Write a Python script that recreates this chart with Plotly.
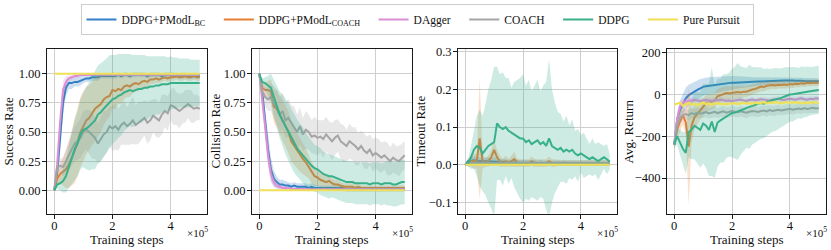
import plotly.graph_objects as go

# training steps in units of 1e5
steps = [0.0, 0.1, 0.2, 0.3, 0.4, 0.5, 0.6, 0.7, 0.8, 0.9,
         1.0, 1.1, 1.2, 1.3, 1.4, 1.5, 1.6, 1.7, 1.8, 1.9,
         2.0, 2.1, 2.2, 2.3, 2.4, 2.5, 2.6, 2.7, 2.8, 2.9,
         3.0, 3.1, 3.2, 3.3, 3.4, 3.5, 3.6, 3.7, 3.8, 3.9,
         4.0, 4.1, 4.2, 4.3, 4.4, 4.5, 4.6, 4.7, 4.8, 4.9, 5.0]

methods = ["DDPG+PModL<sub>BC</sub>", "DDPG+PModL<sub>COACH</sub>", "DAgger", "COACH", "DDPG", "Pure Pursuit"]
colors = ["#3380c4", "#e67e33", "#dc8fd5", "#a5a5a5", "#38b08a", "#efe055"]

# ---------------- Success Rate ----------------
sr_bc = [0.00, 0.15, 0.45, 0.75, 0.88, 0.92, 0.92, 0.93, 0.93, 0.94,
         0.95, 0.96, 0.96, 0.97, 0.97, 0.97, 0.98, 0.98, 0.98, 0.98,
         0.98, 0.98, 0.99, 0.98, 0.99, 0.99, 0.98, 0.99, 0.99, 0.99,
         0.99, 0.99, 0.98, 0.99, 0.99, 0.99, 0.99, 0.98, 0.99, 0.99,
         0.99, 0.99, 0.98, 0.98, 0.99, 0.98, 0.98, 0.98, 0.98, 0.98, 0.98]
sr_bc_sd = [0.00, 0.08, 0.12, 0.10, 0.07, 0.05, 0.05, 0.04, 0.04, 0.04,
            0.03, 0.03, 0.03, 0.03, 0.03, 0.03, 0.02, 0.02, 0.02, 0.02,
            0.02, 0.02, 0.02, 0.02, 0.02, 0.02, 0.02, 0.02, 0.02, 0.02,
            0.02, 0.02, 0.02, 0.02, 0.02, 0.02, 0.02, 0.02, 0.02, 0.02,
            0.02, 0.02, 0.02, 0.02, 0.02, 0.02, 0.02, 0.02, 0.02, 0.02, 0.02]
sr_co = [0.00, 0.10, 0.14, 0.16, 0.18, 0.22, 0.28, 0.34, 0.42, 0.50,
         0.55, 0.60, 0.62, 0.66, 0.70, 0.72, 0.74, 0.78, 0.80, 0.81,
         0.86, 0.85, 0.87, 0.86, 0.89, 0.90, 0.89, 0.91, 0.92, 0.91,
         0.93, 0.94, 0.93, 0.95, 0.95, 0.96, 0.95, 0.96, 0.97, 0.96,
         0.97, 0.97, 0.98, 0.97, 0.97, 0.98, 0.97, 0.97, 0.98, 0.97, 0.97]
sr_co_sd = [0.00, 0.05, 0.08, 0.12, 0.16, 0.20, 0.24, 0.28, 0.30, 0.30,
            0.30, 0.29, 0.28, 0.28, 0.27, 0.26, 0.24, 0.22, 0.20, 0.18,
            0.16, 0.15, 0.13, 0.12, 0.11, 0.10, 0.09, 0.08, 0.07, 0.06,
            0.06, 0.05, 0.05, 0.04, 0.04, 0.04, 0.03, 0.03, 0.03, 0.03,
            0.03, 0.03, 0.03, 0.03, 0.03, 0.03, 0.03, 0.03, 0.03, 0.03, 0.03]
sr_da = [0.00, 0.22, 0.58, 0.86, 0.93, 0.96, 0.97, 0.98, 0.98, 0.99,
         0.99, 0.99, 0.99, 0.99, 0.99, 0.99, 0.99, 0.99, 0.99, 0.99,
         0.99, 0.99, 0.99, 0.99, 0.99, 0.99, 0.99, 0.99, 0.99, 0.99,
         0.99, 0.99, 0.99, 0.99, 0.99, 0.99, 0.99, 0.99, 0.99, 0.99,
         0.99, 0.99, 0.99, 0.99, 0.99, 0.99, 0.99, 0.99, 0.99, 0.99, 0.99]
sr_da_sd = [0.00, 0.10, 0.12, 0.08, 0.05, 0.03, 0.02, 0.02, 0.02, 0.01,
            0.01, 0.01, 0.01, 0.01, 0.01, 0.01, 0.01, 0.01, 0.01, 0.01,
            0.01, 0.01, 0.01, 0.01, 0.01, 0.01, 0.01, 0.01, 0.01, 0.01,
            0.01, 0.01, 0.01, 0.01, 0.01, 0.01, 0.01, 0.01, 0.01, 0.01,
            0.01, 0.01, 0.01, 0.01, 0.01, 0.01, 0.01, 0.01, 0.01, 0.01, 0.01]
sr_ca = [0.00, 0.20, 0.21, 0.20, 0.25, 0.30, 0.35, 0.40, 0.42, 0.45,
         0.50, 0.52, 0.50, 0.47, 0.45, 0.40, 0.44, 0.48, 0.50, 0.55,
         0.53, 0.55, 0.52, 0.56, 0.58, 0.55, 0.57, 0.60, 0.56, 0.58,
         0.60, 0.62, 0.58, 0.60, 0.64, 0.62, 0.60, 0.65, 0.68, 0.66,
         0.73, 0.72, 0.70, 0.68, 0.70, 0.72, 0.74, 0.72, 0.70, 0.71, 0.70]
sr_ca_sd = [0.00, 0.04, 0.06, 0.08, 0.10, 0.12, 0.14, 0.15, 0.16, 0.17,
            0.18, 0.17, 0.19, 0.20, 0.18, 0.17, 0.19, 0.20, 0.18, 0.17,
            0.19, 0.20, 0.18, 0.17, 0.19, 0.16, 0.18, 0.20, 0.17, 0.18,
            0.16, 0.15, 0.18, 0.17, 0.14, 0.16, 0.15, 0.17, 0.14, 0.15,
            0.13, 0.16, 0.14, 0.15, 0.13, 0.14, 0.12, 0.14, 0.12, 0.11, 0.10]
sr_dd = [0.00, 0.05, 0.06, 0.08, 0.12, 0.20, 0.28, 0.35, 0.40, 0.48,
         0.52, 0.53, 0.55, 0.58, 0.60, 0.65, 0.67, 0.70, 0.73, 0.76,
         0.78, 0.79, 0.81, 0.82, 0.84, 0.85, 0.86, 0.85, 0.86, 0.87,
         0.87, 0.88, 0.88, 0.89, 0.89, 0.90, 0.90, 0.91, 0.91, 0.91,
         0.92, 0.92, 0.92, 0.92, 0.92, 0.92, 0.92, 0.92, 0.92, 0.92, 0.92]
sr_dd_sd = [0.00, 0.04, 0.06, 0.10, 0.14, 0.18, 0.22, 0.26, 0.28, 0.30,
            0.32, 0.35, 0.38, 0.40, 0.42, 0.42, 0.42, 0.41, 0.40, 0.40,
            0.38, 0.37, 0.36, 0.35, 0.33, 0.32, 0.31, 0.31, 0.30, 0.29,
            0.29, 0.28, 0.27, 0.26, 0.26, 0.25, 0.25, 0.24, 0.24, 0.23,
            0.23, 0.22, 0.22, 0.21, 0.21, 0.21, 0.21, 0.20, 0.20, 0.20, 0.20]
sr_pp = [1.00, 1.00, 1.00, 1.00, 1.00, 1.00, 1.00, 1.00, 1.00, 1.00,
         1.00, 1.00, 1.00, 1.00, 1.00, 1.00, 1.00, 1.00, 1.00, 1.00,
         1.00, 1.00, 1.00, 1.00, 1.00, 1.00, 1.00, 1.00, 1.00, 1.00,
         1.00, 1.00, 1.00, 1.00, 1.00, 1.00, 1.00, 1.00, 1.00, 1.00,
         1.00, 1.00, 1.00, 1.00, 1.00, 1.00, 1.00, 1.00, 1.00, 1.00, 1.00]
sr_pp_sd = [0.0, 0.0, 0.0, 0.0, 0.0, 0.0, 0.0, 0.0, 0.0, 0.0,
            0.0, 0.0, 0.0, 0.0, 0.0, 0.0, 0.0, 0.0, 0.0, 0.0,
            0.0, 0.0, 0.0, 0.0, 0.0, 0.0, 0.0, 0.0, 0.0, 0.0,
            0.0, 0.0, 0.0, 0.0, 0.0, 0.0, 0.0, 0.0, 0.0, 0.0,
            0.0, 0.0, 0.0, 0.0, 0.0, 0.0, 0.0, 0.0, 0.0, 0.0, 0.0]

# ---------------- Collision Rate ----------------
cr_bc = [1.00, 0.85, 0.60, 0.35, 0.18, 0.10, 0.07, 0.05, 0.05, 0.04,
         0.04, 0.03, 0.04, 0.03, 0.03, 0.03, 0.03, 0.02, 0.03, 0.02,
         0.02, 0.02, 0.02, 0.02, 0.02, 0.02, 0.02, 0.02, 0.02, 0.02,
         0.01, 0.01, 0.01, 0.01, 0.01, 0.01, 0.01, 0.01, 0.01, 0.01,
         0.01, 0.01, 0.01, 0.01, 0.01, 0.01, 0.01, 0.01, 0.01, 0.01, 0.01]
cr_bc_sd = [0.00, 0.05, 0.10, 0.12, 0.10, 0.07, 0.05, 0.04, 0.04, 0.04,
            0.03, 0.03, 0.03, 0.03, 0.03, 0.03, 0.03, 0.03, 0.03, 0.03,
            0.02, 0.02, 0.02, 0.02, 0.02, 0.02, 0.02, 0.02, 0.02, 0.02,
            0.02, 0.02, 0.02, 0.02, 0.02, 0.02, 0.02, 0.02, 0.02, 0.02,
            0.02, 0.02, 0.02, 0.02, 0.02, 0.02, 0.02, 0.02, 0.02, 0.02, 0.02]
cr_co = [1.00, 0.88, 0.86, 0.86, 0.85, 0.72, 0.70, 0.65, 0.60, 0.55,
         0.50, 0.42, 0.38, 0.34, 0.30, 0.27, 0.24, 0.20, 0.15, 0.12,
         0.11, 0.09, 0.08, 0.07, 0.08, 0.06, 0.05, 0.05, 0.04, 0.03,
         0.03, 0.03, 0.03, 0.02, 0.03, 0.02, 0.02, 0.02, 0.02, 0.02,
         0.02, 0.02, 0.02, 0.02, 0.02, 0.02, 0.02, 0.02, 0.02, 0.02, 0.02]
cr_co_sd = [0.00, 0.04, 0.06, 0.08, 0.10, 0.14, 0.16, 0.17, 0.18, 0.18,
            0.18, 0.17, 0.16, 0.15, 0.14, 0.13, 0.12, 0.10, 0.09, 0.08,
            0.07, 0.06, 0.06, 0.05, 0.05, 0.04, 0.04, 0.04, 0.03, 0.03,
            0.03, 0.03, 0.03, 0.03, 0.03, 0.02, 0.02, 0.02, 0.02, 0.02,
            0.02, 0.02, 0.02, 0.02, 0.02, 0.02, 0.02, 0.02, 0.02, 0.02, 0.02]
cr_da = [1.00, 0.80, 0.55, 0.30, 0.14, 0.07, 0.04, 0.03, 0.02, 0.02,
         0.02, 0.01, 0.01, 0.01, 0.01, 0.01, 0.01, 0.01, 0.01, 0.01,
         0.01, 0.01, 0.01, 0.01, 0.01, 0.01, 0.01, 0.01, 0.01, 0.01,
         0.01, 0.01, 0.01, 0.01, 0.01, 0.01, 0.01, 0.01, 0.01, 0.01,
         0.01, 0.01, 0.01, 0.01, 0.01, 0.01, 0.01, 0.01, 0.01, 0.01, 0.01]
cr_da_sd = [0.00, 0.06, 0.10, 0.10, 0.07, 0.04, 0.03, 0.02, 0.02, 0.02,
            0.01, 0.01, 0.01, 0.01, 0.01, 0.01, 0.01, 0.01, 0.01, 0.01,
            0.01, 0.01, 0.01, 0.01, 0.01, 0.01, 0.01, 0.01, 0.01, 0.01,
            0.01, 0.01, 0.01, 0.01, 0.01, 0.01, 0.01, 0.01, 0.01, 0.01,
            0.01, 0.01, 0.01, 0.01, 0.01, 0.01, 0.01, 0.01, 0.01, 0.01, 0.01]
cr_ca = [1.00, 0.85, 0.80, 0.78, 0.80, 0.75, 0.72, 0.65, 0.68, 0.60,
         0.62, 0.58, 0.55, 0.50, 0.55, 0.48, 0.52, 0.50, 0.46, 0.47,
         0.45, 0.46, 0.44, 0.48, 0.45, 0.42, 0.45, 0.47, 0.42, 0.40,
         0.38, 0.42, 0.40, 0.38, 0.35, 0.38, 0.34, 0.32, 0.35, 0.30,
         0.32, 0.30, 0.28, 0.30, 0.27, 0.25, 0.28, 0.26, 0.25, 0.28, 0.30]
cr_ca_sd = [0.00, 0.06, 0.08, 0.10, 0.12, 0.14, 0.15, 0.15, 0.16, 0.15,
            0.16, 0.15, 0.17, 0.15, 0.16, 0.14, 0.16, 0.15, 0.14, 0.16,
            0.15, 0.14, 0.16, 0.15, 0.14, 0.16, 0.15, 0.14, 0.15, 0.16,
            0.14, 0.15, 0.14, 0.16, 0.14, 0.13, 0.15, 0.14, 0.13, 0.14,
            0.13, 0.14, 0.13, 0.12, 0.14, 0.12, 0.13, 0.12, 0.13, 0.12, 0.12]
cr_dd = [1.00, 0.93, 0.92, 0.90, 0.88, 0.80, 0.72, 0.65, 0.60, 0.55,
         0.50, 0.45, 0.40, 0.36, 0.33, 0.30, 0.26, 0.24, 0.21, 0.19,
         0.18, 0.16, 0.14, 0.13, 0.12, 0.12, 0.11, 0.10, 0.09, 0.08,
         0.07, 0.07, 0.07, 0.06, 0.06, 0.06, 0.06, 0.06, 0.05, 0.06,
         0.06, 0.06, 0.05, 0.06, 0.06, 0.06, 0.05, 0.05, 0.06, 0.07, 0.07]
cr_dd_sd = [0.00, 0.03, 0.05, 0.08, 0.12, 0.15, 0.18, 0.20, 0.22, 0.24,
            0.25, 0.25, 0.25, 0.25, 0.24, 0.24, 0.23, 0.22, 0.21, 0.20,
            0.20, 0.20, 0.19, 0.19, 0.19, 0.18, 0.18, 0.18, 0.18, 0.18,
            0.18, 0.18, 0.18, 0.18, 0.18, 0.18, 0.18, 0.18, 0.18, 0.18,
            0.18, 0.18, 0.18, 0.18, 0.19, 0.19, 0.19, 0.19, 0.19, 0.19, 0.19]
cr_pp = [0.0, 0.0, 0.0, 0.0, 0.0, 0.0, 0.0, 0.0, 0.0, 0.0,
         0.0, 0.0, 0.0, 0.0, 0.0, 0.0, 0.0, 0.0, 0.0, 0.0,
         0.0, 0.0, 0.0, 0.0, 0.0, 0.0, 0.0, 0.0, 0.0, 0.0,
         0.0, 0.0, 0.0, 0.0, 0.0, 0.0, 0.0, 0.0, 0.0, 0.0,
         0.0, 0.0, 0.0, 0.0, 0.0, 0.0, 0.0, 0.0, 0.0, 0.0, 0.0]
cr_pp_sd = sr_pp_sd

# ---------------- Timeout Rate ----------------
to_bc = [0.000, 0.010, 0.010, 0.012, 0.010, 0.010, 0.008, 0.010, 0.010, 0.008,
         0.010, 0.008, 0.006, 0.008, 0.006, 0.006, 0.005, 0.006, 0.005, 0.005,
         0.005, 0.005, 0.005, 0.004, 0.005, 0.004, 0.005, 0.004, 0.004, 0.004,
         0.004, 0.004, 0.003, 0.004, 0.003, 0.003, 0.004, 0.003, 0.003, 0.003,
         0.003, 0.003, 0.003, 0.003, 0.003, 0.003, 0.003, 0.003, 0.003, 0.003, 0.003]
to_bc_sd = [0.000, 0.008, 0.010, 0.010, 0.010, 0.010, 0.009, 0.010, 0.010, 0.009,
            0.010, 0.009, 0.008, 0.009, 0.008, 0.008, 0.007, 0.008, 0.007, 0.007,
            0.007, 0.007, 0.007, 0.006, 0.007, 0.006, 0.007, 0.006, 0.006, 0.006,
            0.006, 0.006, 0.005, 0.006, 0.005, 0.005, 0.006, 0.005, 0.005, 0.005,
            0.005, 0.005, 0.005, 0.005, 0.005, 0.005, 0.005, 0.005, 0.005, 0.005, 0.005]
to_co = [0.000, 0.005, 0.010, 0.010, 0.010, 0.070, 0.010, 0.005, 0.010, 0.020,
         0.040, 0.020, 0.010, 0.005, 0.010, 0.005, 0.010, 0.015, 0.005, 0.005,
         0.005, 0.005, 0.005, 0.010, 0.005, 0.005, 0.005, 0.005, 0.005, 0.010,
         0.005, 0.005, 0.005, 0.005, 0.005, 0.005, 0.005, 0.005, 0.005, 0.005,
         0.005, 0.005, 0.005, 0.005, 0.005, 0.005, 0.005, 0.005, 0.005, 0.005, 0.005]
to_co_sd = [0.000, 0.010, 0.015, 0.020, 0.020, 0.160, 0.020, 0.010, 0.015, 0.020,
            0.025, 0.020, 0.015, 0.010, 0.015, 0.010, 0.015, 0.020, 0.010, 0.010,
            0.010, 0.010, 0.010, 0.012, 0.010, 0.010, 0.010, 0.010, 0.010, 0.012,
            0.010, 0.010, 0.008, 0.008, 0.008, 0.008, 0.008, 0.008, 0.008, 0.008,
            0.008, 0.008, 0.008, 0.008, 0.008, 0.008, 0.008, 0.008, 0.008, 0.008, 0.008]
to_da = [0.000, 0.003, 0.003, 0.003, 0.003, 0.003, 0.003, 0.003, 0.003, 0.003,
         0.003, 0.003, 0.003, 0.003, 0.003, 0.003, 0.003, 0.003, 0.003, 0.003,
         0.003, 0.003, 0.003, 0.003, 0.003, 0.003, 0.003, 0.003, 0.003, 0.003,
         0.003, 0.003, 0.003, 0.003, 0.003, 0.003, 0.003, 0.003, 0.003, 0.003,
         0.003, 0.003, 0.003, 0.003, 0.003, 0.003, 0.003, 0.003, 0.003, 0.003, 0.003]
to_da_sd = [0.000, 0.004, 0.004, 0.004, 0.004, 0.004, 0.004, 0.004, 0.004, 0.004,
            0.004, 0.004, 0.004, 0.004, 0.004, 0.004, 0.004, 0.004, 0.004, 0.004,
            0.004, 0.004, 0.004, 0.004, 0.004, 0.004, 0.004, 0.004, 0.004, 0.004,
            0.004, 0.004, 0.004, 0.004, 0.004, 0.004, 0.004, 0.004, 0.004, 0.004,
            0.004, 0.004, 0.004, 0.004, 0.004, 0.004, 0.004, 0.004, 0.004, 0.004, 0.004]
to_ca = [0.000, 0.004, 0.005, 0.004, 0.006, 0.004, 0.005, 0.004, 0.006, 0.004,
         0.005, 0.004, 0.006, 0.004, 0.005, 0.004, 0.005, 0.004, 0.006, 0.004,
         0.005, 0.004, 0.005, 0.004, 0.006, 0.004, 0.005, 0.004, 0.005, 0.004,
         0.005, 0.004, 0.005, 0.004, 0.006, 0.004, 0.005, 0.004, 0.005, 0.004,
         0.005, 0.004, 0.005, 0.004, 0.005, 0.004, 0.005, 0.004, 0.005, 0.004, 0.005]
to_ca_sd = [0.000, 0.006, 0.008, 0.007, 0.009, 0.007, 0.008, 0.007, 0.009, 0.007,
            0.008, 0.007, 0.009, 0.007, 0.008, 0.007, 0.008, 0.007, 0.009, 0.007,
            0.008, 0.007, 0.008, 0.007, 0.009, 0.007, 0.008, 0.007, 0.008, 0.007,
            0.008, 0.007, 0.008, 0.007, 0.009, 0.007, 0.008, 0.007, 0.008, 0.007,
            0.008, 0.007, 0.008, 0.007, 0.008, 0.007, 0.008, 0.007, 0.008, 0.007, 0.008]
to_dd = [0.000, 0.005, 0.020, 0.040, 0.050, 0.045, 0.030, 0.040, 0.050, 0.055,
         0.060, 0.110, 0.100, 0.095, 0.100, 0.090, 0.085, 0.080, 0.075, 0.070,
         0.070, 0.060, 0.065, 0.055, 0.060, 0.065, 0.055, 0.060, 0.050, 0.070,
         0.050, 0.045, 0.040, 0.045, 0.035, 0.040, 0.035, 0.040, 0.030, 0.025,
         0.030, 0.025, 0.020, 0.015, 0.020, 0.015, 0.010, 0.015, 0.020, 0.015, 0.008]
to_dd_sd = [0.000, 0.010, 0.030, 0.050, 0.080, 0.100, 0.100, 0.120, 0.150, 0.170,
            0.200, 0.150, 0.140, 0.150, 0.130, 0.140, 0.120, 0.140, 0.150, 0.160,
            0.170, 0.150, 0.160, 0.140, 0.150, 0.160, 0.140, 0.150, 0.170, 0.210,
            0.150, 0.120, 0.100, 0.090, 0.080, 0.090, 0.070, 0.080, 0.060, 0.070,
            0.050, 0.060, 0.050, 0.040, 0.050, 0.040, 0.050, 0.040, 0.030, 0.040, 0.020]
to_pp = cr_pp
to_pp_sd = sr_pp_sd

# ---------------- Avg. Return ----------------
ar_bc = [-240, -120, -75, -45, -20, -5, 5, 12, 20, 28,
         35, 38, 40, 42, 45, 47, 48, 50, 52, 53,
         55, 55, 56, 57, 57, 58, 58, 59, 60, 60,
         60, 61, 62, 62, 63, 63, 64, 64, 65, 65,
         66, 65, 64, 65, 64, 63, 63, 62, 62, 63, 62]
ar_bc_sd = [10, 35, 45, 50, 52, 50, 48, 46, 45, 44,
            42, 42, 41, 40, 40, 39, 38, 36, 35, 34,
            32, 30, 29, 28, 26, 25, 24, 22, 21, 20,
            19, 18, 17, 16, 16, 15, 15, 15, 14, 14,
            14, 14, 14, 14, 14, 14, 14, 14, 14, 14, 14]
ar_co = [-240, -170, -130, -100, -135, -250, -150, -110, -95, -75,
         -60, -45, -40, -35, -30, -10, -5, 0, 5, 3,
         5, 8, 10, 8, 12, 12, 18, 22, 25, 30,
         36, 34, 40, 42, 44, 42, 45, 44, 46, 44,
         48, 46, 50, 48, 52, 50, 54, 52, 55, 53, 55]
ar_co_sd = [20, 40, 50, 45, 60, 280, 80, 60, 50, 45,
            45, 40, 40, 38, 36, 35, 35, 34, 33, 32,
            32, 30, 30, 28, 27, 26, 25, 24, 23, 22,
            22, 21, 20, 20, 19, 19, 18, 18, 18, 17,
            17, 17, 16, 16, 16, 16, 16, 15, 15, 15, 15]
ar_da = [-240, -120, -60, -40, -35, -32, -30, -28, -30, -32,
         -30, -28, -30, -32, -28, -30, -26, -28, -32, -30,
         -34, -30, -28, -26, -30, -32, -28, -26, -30, -28,
         -24, -26, -28, -30, -26, -24, -22, -26, -28, -24,
         -22, -24, -26, -22, -20, -24, -26, -22, -24, -20, -22]
ar_da_sd = [5, 30, 25, 18, 15, 14, 14, 13, 13, 13,
            12, 12, 12, 12, 12, 12, 12, 12, 12, 12,
            12, 12, 12, 12, 12, 12, 12, 12, 12, 12,
            12, 12, 12, 12, 12, 12, 12, 12, 12, 12,
            12, 12, 12, 12, 12, 12, 12, 12, 12, 12, 12]
ar_ca = [-240, -150, -110, -100, -95, -100, -90, -95, -88, -92,
         -90, -85, -92, -88, -84, -90, -86, -82, -88, -85,
         -80, -84, -86, -82, -85, -88, -84, -80, -82, -85,
         -80, -78, -82, -76, -80, -78, -74, -78, -75, -72,
         -70, -74, -70, -68, -72, -66, -70, -68, -65, -68, -66]
ar_ca_sd = [10, 30, 28, 26, 25, 25, 24, 26, 25, 24,
            25, 26, 24, 25, 26, 24, 25, 27, 25, 24,
            26, 25, 24, 26, 25, 27, 24, 25, 26, 24,
            25, 24, 26, 23, 24, 25, 24, 23, 25, 24,
            23, 24, 22, 23, 24, 22, 23, 22, 24, 22, 22]
ar_dd = [-240, -200, -230, -260, -280, -180, -170, -150, -160, -170,
         -140, -150, -170, -130, -180, -135, -125, -115, -105, -98,
         -90, -88, -82, -78, -72, -65, -60, -55, -52, -48,
         -42, -45, -38, -35, -28, -25, -22, -18, -12, -6,
         -2, 0, 3, 5, 8, 10, 12, 14, 16, 18, 20]
ar_dd_sd = [20, 40, 60, 80, 100, 120, 140, 160, 170, 180,
            190, 200, 220, 260, 220, 210, 200, 210, 200, 200,
            210, 220, 230, 210, 200, 190, 200, 185, 180, 175,
            170, 165, 160, 155, 150, 150, 145, 140, 140, 135,
            130, 130, 125, 120, 125, 120, 120, 115, 115, 115, 115]
ar_pp = [-50, -45, -40, -55, -48, -42, -50, -45, -52, -46,
         -40, -48, -44, -50, -46, -42, -48, -45, -50, -44,
         -46, -42, -48, -44, -40, -45, -42, -46, -40, -44,
         -42, -38, -44, -40, -42, -38, -40, -44, -40, -38,
         -42, -40, -38, -42, -40, -44, -40, -42, -38, -40, -42]
ar_pp_sd = [6, 8, 8, 9, 8, 8, 8, 8, 9, 8,
            8, 8, 8, 9, 8, 8, 8, 8, 9, 8,
            8, 8, 8, 8, 8, 8, 8, 8, 8, 8,
            8, 8, 8, 8, 8, 8, 8, 8, 8, 8,
            8, 8, 8, 8, 8, 8, 8, 8, 8, 8, 8]

y_titles = ["Success Rate", "Collision Rate", "Timeout Rate", "Avg. Return"]
panel_means = [
    [sr_bc, sr_co, sr_da, sr_ca, sr_dd, sr_pp],
    [cr_bc, cr_co, cr_da, cr_ca, cr_dd, cr_pp],
    [to_bc, to_co, to_da, to_ca, to_dd, to_pp],
    [ar_bc, ar_co, ar_da, ar_ca, ar_dd, ar_pp],
]
panel_sds = [
    [sr_bc_sd, sr_co_sd, sr_da_sd, sr_ca_sd, sr_dd_sd, sr_pp_sd],
    [cr_bc_sd, cr_co_sd, cr_da_sd, cr_ca_sd, cr_dd_sd, cr_pp_sd],
    [to_bc_sd, to_co_sd, to_da_sd, to_ca_sd, to_dd_sd, to_pp_sd],
    [ar_bc_sd, ar_co_sd, ar_da_sd, ar_ca_sd, ar_dd_sd, ar_pp_sd],
]
y_ticks = [
    [0, 0.25, 0.5, 0.75, 1.0],
    [0, 0.25, 0.5, 0.75, 1.0],
    [-0.1, 0.0, 0.1, 0.2, 0.3],
    [-400, -200, 0, 200],
]
y_fmt = [".2f", ".2f", ".1f", "d"]
y_ranges = [[-0.2, 1.21], [-0.2, 1.21], [-0.129, 0.306], [-569, 214]]
x_ticks = [0, 2, 4]

for group in panel_means + panel_sds:
    for arr in group:
        assert len(arr) == len(steps), len(arr)

W, H = 831, 250
FONT = "Liberation Serif"
dom_px = [(47, 207), (252, 412), (458, 617), (667, 826)]
ytop_px, ybot_px = 46, 213
ydom = [(H - ybot_px) / H, (H - ytop_px) / H]
ytitle_px = [8, 215, 420, 628]


def rgba(hexc, a):
    h = hexc.lstrip("#")
    return "rgba(%d,%d,%d,%.2f)" % (int(h[0:2], 16), int(h[2:4], 16), int(h[4:6], 16), a)


fig = go.Figure()
annotations = []
for p in range(4):
    sfx = "" if p == 0 else str(p + 1)
    xa, ya = "x" + sfx, "y" + sfx
    for k in range(6):
        m = panel_means[p][k]
        s = panel_sds[p][k]
        upper = [a + b for a, b in zip(m, s)]
        lower = [a - b for a, b in zip(m, s)]
        fig.add_trace(go.Scatter(
            x=steps + steps[::-1], y=upper + lower[::-1], fill="toself",
            fillcolor=rgba(colors[k], 0.25), line=dict(width=0),
            hoverinfo="skip", showlegend=False, xaxis=xa, yaxis=ya))
        fig.add_trace(go.Scatter(
            x=steps, y=m, mode="lines", name=methods[k] + "&nbsp;&nbsp;&nbsp;",
            line=dict(color=colors[k], width=2), legendgroup=methods[k],
            showlegend=(p == 0), xaxis=xa, yaxis=ya))
    x0, x1 = dom_px[p]
    common = dict(showline=True, linecolor="#1a1a1a", linewidth=1, mirror=True,
                  showgrid=True, gridcolor="#cfcfcf", gridwidth=1, zeroline=False,
                  ticks="outside", ticklen=4, tickwidth=1, tickcolor="#1a1a1a",
                  tickfont=dict(family=FONT, size=12.5, color="#111"))
    fig.layout["xaxis" + sfx] = dict(domain=[x0 / W, x1 / W], anchor=ya,
                                     range=[-0.25, 5.25], tickvals=x_ticks,
                                     ticktext=[str(t) for t in x_ticks],
                                     ticklabelstandoff=-4, **common)
    fig.layout["yaxis" + sfx] = dict(domain=ydom, anchor=xa, range=y_ranges[p],
                                     tickvals=y_ticks[p], tickformat=y_fmt[p],
                                     ticklabelstandoff=-1, **common)
    annotations.append(dict(text=y_titles[p], x=ytitle_px[p] / W, y=(H - (ytop_px + ybot_px) / 2) / H,
                            xref="paper", yref="paper", textangle=-90, showarrow=False,
                            xanchor="center", yanchor="middle",
                            font=dict(family=FONT, size=13, color="#111")))
    annotations.append(dict(text="Training steps", x=(x0 + x1) / 2 / W, y=(H - 239) / H,
                            xref="paper", yref="paper", showarrow=False,
                            xanchor="center", yanchor="middle", borderpad=0,
                            font=dict(family=FONT, size=13, color="#111")))
    annotations.append(dict(text="×10<sup>5</sup>", x=x1 / W + 0.002, y=(H - 232) / H,
                            xref="paper", yref="paper", showarrow=False,
                            xanchor="right", yanchor="middle", borderpad=0,
                            font=dict(family=FONT, size=11, color="#111")))

fig.update_layout(
    width=W, height=H, margin=dict(l=0, r=0, t=0, b=0),
    paper_bgcolor="white", plot_bgcolor="white",
    annotations=annotations,
    font=dict(family=FONT, size=13, color="#111"),
    legend=dict(orientation="h", x=0.503, xanchor="center", y=1.0, yanchor="top",
                bordercolor="#cccccc", borderwidth=1, bgcolor="white",
                font=dict(family=FONT, size=11.5, color="#111"),
                itemwidth=30, tracegroupgap=0),
)

fig.write_html("out.html", config={"displayModeBar": False},
               post_script="document.body.style.margin='0px';")
